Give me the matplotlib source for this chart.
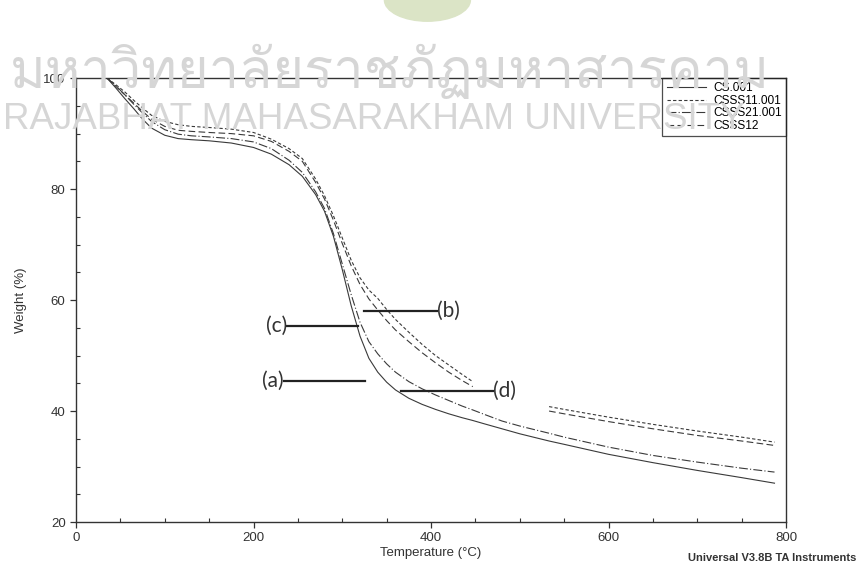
import numpy as np
import matplotlib
matplotlib.use("Agg")
import matplotlib.pyplot as plt
from matplotlib import font_manager
from matplotlib.ft2font import FT2Font
from matplotlib.patches import Ellipse

nan = np.nan

# temperature grid (°C)
temp = [35, 45, 55, 65, 75, 85, 100, 115, 130, 150, 175, 200, 220, 240, 255,
        270, 280, 290, 300, 310, 320, 330, 340, 350, 360, 375, 390, 405, 420,
        435, 447, 460, 480, 500, 533, 550, 575, 600, 650, 700, 750, 787]

# weight (%) of each sample
cs001 = [100, 98.2, 96.3, 94.5, 92.6, 91.0, 89.7, 89.1, 88.9, 88.7, 88.3, 87.5,
         86.3, 84.4, 82.3, 79.0, 76.0, 71.5, 65.5, 59.0, 53.5, 49.5, 47.0, 45.2,
         43.8, 42.3, 41.2, 40.3, 39.5, 38.8, 38.3, 37.7, 36.8, 35.9, 34.6, 34.0,
         33.1, 32.2, 30.7, 29.3, 28.0, 27.0]
csss21 = [100, 98.6, 97.0, 95.3, 93.7, 92.2, 90.7, 89.9, 89.6, 89.4, 89.1, 88.5,
          87.3, 85.2, 83.0, 79.5, 76.5, 72.0, 66.5, 61.0, 56.0, 52.5, 50.3, 48.5,
          47.0, 45.3, 44.0, 42.9, 41.9, 40.9, 40.2, 39.4, 38.2, 37.3, 36.0, 35.3,
          34.4, 33.5, 32.0, 30.8, 29.7, 29.0]
csss11 = [100, 98.8, 97.5, 96.0, 94.6, 93.3, 92.2, 91.6, 91.3, 91.1, 90.8, 90.2,
          89.0, 87.3, 85.5, 81.8, 78.8, 75.2, 71.2, 67.2, 64.0, 61.8, 60.3, 58.3,
          56.5, 54.2, 52.0, 50.0, 48.3, 46.6, 45.3, nan, nan, nan, 40.8, 40.3,
          39.6, 38.9, 37.6, 36.4, 35.3, 34.4]
csss12 = [100, 98.5, 97.0, 95.5, 94.0, 92.6, 91.3, 90.6, 90.4, 90.2, 90.0, 89.6,
          88.6, 86.8, 85.0, 81.2, 78.2, 74.4, 70.2, 66.2, 62.8, 60.2, 58.2, 56.3,
          54.6, 52.5, 50.5, 48.7, 47.0, 45.5, 44.4, nan, nan, nan, 40.0, 39.5,
          38.8, 38.1, 36.8, 35.6, 34.6, 33.8]

names = ["CS.001", "CSSS11.001", "CSSS21.001", "CSSS12"]

# (label, line start T, line end T, weight level, text side)
marks = [("(a)", 234, 326, 45.5, "left"),
         ("(b)", 324, 407, 58.1, "right"),
         ("(c)", 238, 318, 55.4, "left"),
         ("(d)", 366, 470, 43.6, "right")]


def thai_family():
    for f in font_manager.fontManager.ttflist:
        try:
            if 0x0E21 in FT2Font(f.fname).get_charmap():
                return f.name
        except Exception:
            pass
    return "DejaVu Sans"


plt.rcParams["font.family"] = ["Liberation Sans", "DejaVu Sans"]

fig = plt.figure(figsize=(8.6, 5.66), dpi=100)
ax = fig.add_axes([0.0884, 0.0777, 0.8256, 0.7843])
ax.patch.set_alpha(0)

# watermark + logo behind the plot
fig.patches.append(Ellipse((0.497, 1.0), 0.10, 0.075, transform=fig.transFigure,
                           color="#dbe4c6", zorder=0))
fig.text(0.012, 0.845, "มหาวิทยาลัยราชภัฏมหาสารคาม", fontsize=39,
         family=[thai_family(), "DejaVu Sans"], color="#d6d6d6", zorder=0)
fig.text(0.004, 0.772, "RAJABHAT MAHASARAKHAM UNIVERSITY", fontsize=26.5,
         color="#d6d6d6", zorder=0)

lc = "#3a3a3a"
ax.plot(temp, cs001, color=lc, lw=0.8, ls="-", label=names[0])
ax.plot(temp, csss11, color=lc, lw=0.8, ls=(0, (3, 2)), label=names[1])
ax.plot(temp, csss21, color=lc, lw=0.8, ls=(0, (8, 2, 1, 2)), label=names[2])
ax.plot(temp, csss12, color=lc, lw=0.8, ls=(0, (6, 3)), label=names[3])

for lab, t0, t1, w, side in marks:
    ax.plot([t0, t1], [w, w], color="#222222", lw=1.6)
    if side == "left":
        ax.text(t0, w, lab, ha="right", va="center", fontsize=15,
                family="Lato", color="#333333")
    else:
        ax.text(t1, w, lab, ha="left", va="center", fontsize=15,
                family="Lato", color="#333333")

ax.set_xlim(0, 800)
ax.set_ylim(20, 100)
ax.set_xticks([0, 200, 400, 600, 800])
ax.set_yticks([20, 40, 60, 80, 100])
ax.set_xticks(np.arange(0, 801, 50), minor=True)
ax.set_yticks(np.arange(20, 101, 5), minor=True)
ax.tick_params(which="major", direction="out", length=4, width=0.9,
               labelsize=9.5, labelcolor="#333333", color="#333333")
ax.tick_params(which="minor", direction="in", length=3, width=0.8,
               color="#333333")
for s in ax.spines.values():
    s.set_color("#333333")
    s.set_linewidth(1.0)

ax.set_xlabel("Temperature (°C)", fontsize=9.5, color="#333333", labelpad=2)
ax.set_ylabel("Weight (%)", fontsize=9.5, color="#333333", labelpad=12)

leg = ax.legend(loc="upper right", fontsize=8.6, frameon=True, fancybox=False,
                borderaxespad=0, handlelength=3.3, labelspacing=0.05,
                borderpad=0.35, handletextpad=0.6)
leg.get_frame().set_edgecolor("#222222")
leg.get_frame().set_facecolor("none")
leg.get_frame().set_linewidth(0.9)

fig.text(0.996, 0.008, "Universal V3.8B TA Instruments", ha="right",
         fontsize=8, fontweight="bold", color="#333333")

fig.savefig("out.png", dpi=100)
